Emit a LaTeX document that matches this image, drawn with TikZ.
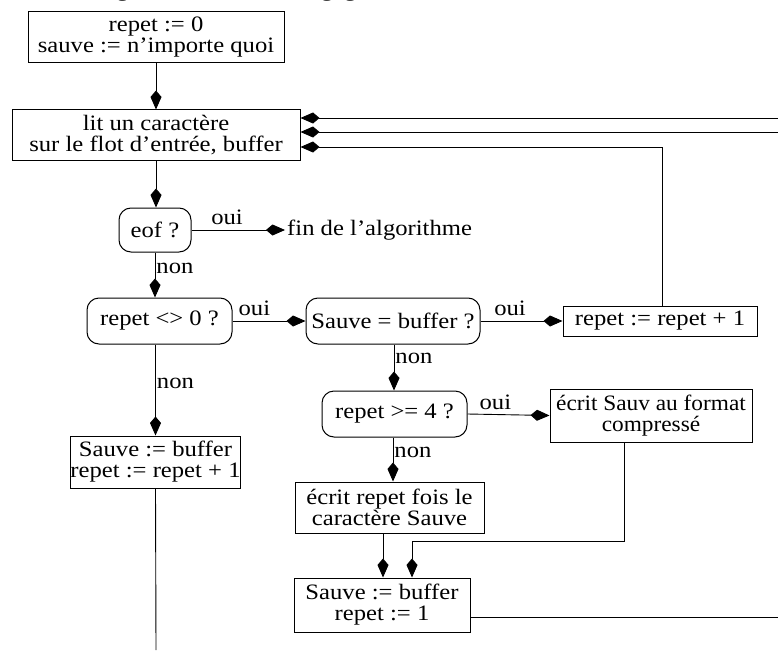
\documentclass[tikz,border=0pt]{standalone}
\usepackage{fontspec}
\setmainfont{Liberation Serif}[FakeStretch=1.12]
\usetikzlibrary{arrows.meta,calc}
\begin{document}
\begin{tikzpicture}[x=1pt,y=-1pt,
  every node/.style={font=\fontsize{22}{21}\selectfont, inner sep=1pt},
  box/.style={draw, line width=1pt, align=center, inner sep=0pt},
  qbox/.style={box, rounded corners=12pt},
  arr/.style={line width=0.9pt, -{Kite[length=19pt,width=11pt,inset=6.5pt]}},
  ln/.style={line width=0.9pt},
  lab/.style={font=\fontsize{22}{21}\selectfont, inner sep=1pt},
  ylab/.style={lab, above=3.5pt}]
\useasboundingbox (0,0) rectangle (778,650);
\clip (0,0) rectangle (778,650);

\node[anchor=base west, inner sep=0pt] (title) at (0,-3) {Le même algorithme écrit en langage C:};

\node[box, minimum width=256pt, minimum height=51pt] (init) at (156,37.5) {repet := 0\\sauve := n’importe quoi};
\node[box, minimum width=288pt, minimum height=50pt] (read) at (156,135) {lit un caractère\\sur le flot d’entrée, buffer};
\node[qbox, minimum width=72pt, minimum height=44pt] (eof) at (155,230) {eof ?};
\node[anchor=west, inner sep=2pt] (fin) at (285,230) {fin de l’algorithme};
\node[qbox, minimum width=145pt, minimum height=46pt] (r0) at (159.5,321) {repet <> 0 ?};
\node[qbox, minimum width=174pt, minimum height=46pt] (sb) at (393,321) {Sauve = buffer ?};
\node[box, minimum width=194pt, minimum height=30pt] (inc) at (660,321) {repet := repet + 1};
\node[qbox, minimum width=145pt, minimum height=46pt] (ge4) at (394.5,414) {repet >= 4 ?};
\node[box, minimum width=202pt, minimum height=53pt, font=\fontsize{22}{21}\selectfont\addfontfeature{FakeStretch=1.06}] (comp) at (651,415.5) {écrit Sauv au format\\compressé};
\node[box, minimum width=189pt, minimum height=51pt] (wr) at (389.5,507.5) {écrit repet fois le\\caractère Sauve};
\node[box, minimum width=176pt, minimum height=54pt] (s1) at (382,605) {Sauve := buffer\\repet := 1};
\node[box, minimum width=167pt, minimum height=52pt] (s2) at (155.5,462) {Sauve := buffer\\repet := repet + 1};

\coordinate (inA) at (778,118);
\coordinate (inB) at (778,132);
\coordinate (outS1) at (778,617);
\coordinate (outS2) at (156,650);

% connectors
\draw[arr] (init.south) -- (read.north);
\draw[arr] (read.south) -- (eof.north -| read.south);
\draw[arr] (eof.east) -- node[ylab, pos=0.38] {oui} (fin.west);
\draw[arr] (eof.south) -- node[lab, right, pos=0.35] {non} (r0.north -| eof.south);
\draw[arr] (r0.east) -- node[ylab, pos=0.3] {oui} (sb.west);
\draw[arr] (sb.east) -- node[ylab, pos=0.36] {oui} (inc.west);
\draw[arr] (inc.north -| 662,0) |- ($(read.east)+(0,12)$);
\draw[arr] (inB) -- (read.east |- inB);
\draw[arr] (inA) -- (read.east |- inA);
\draw[arr] (r0.south -| s2.north) -- node[lab, right, pos=0.43] {non} (s2.north);
\draw[ln] (s2.south) -- (outS2);
\draw[arr] (sb.south -| 394,0) -- node[lab, right, pos=0.3] {non} (ge4.north -| 394,0);
\draw[arr] (ge4.east) -- node[ylab, pos=0.34] {oui} (comp.west);
\draw[arr] (ge4.south -| 393,0) -- node[lab, right, pos=0.33] {non} (wr.north -| 393,0);
\draw[arr] (wr.south -| 383,0) -- (s1.north -| 383,0);
\draw[arr] (comp.south -| 624,0) |- (412,541) -- (s1.north -| 412,0);
\draw[ln] ($(s1.east)+(0,12)$) -- (outS1);
\end{tikzpicture}
\end{document}
